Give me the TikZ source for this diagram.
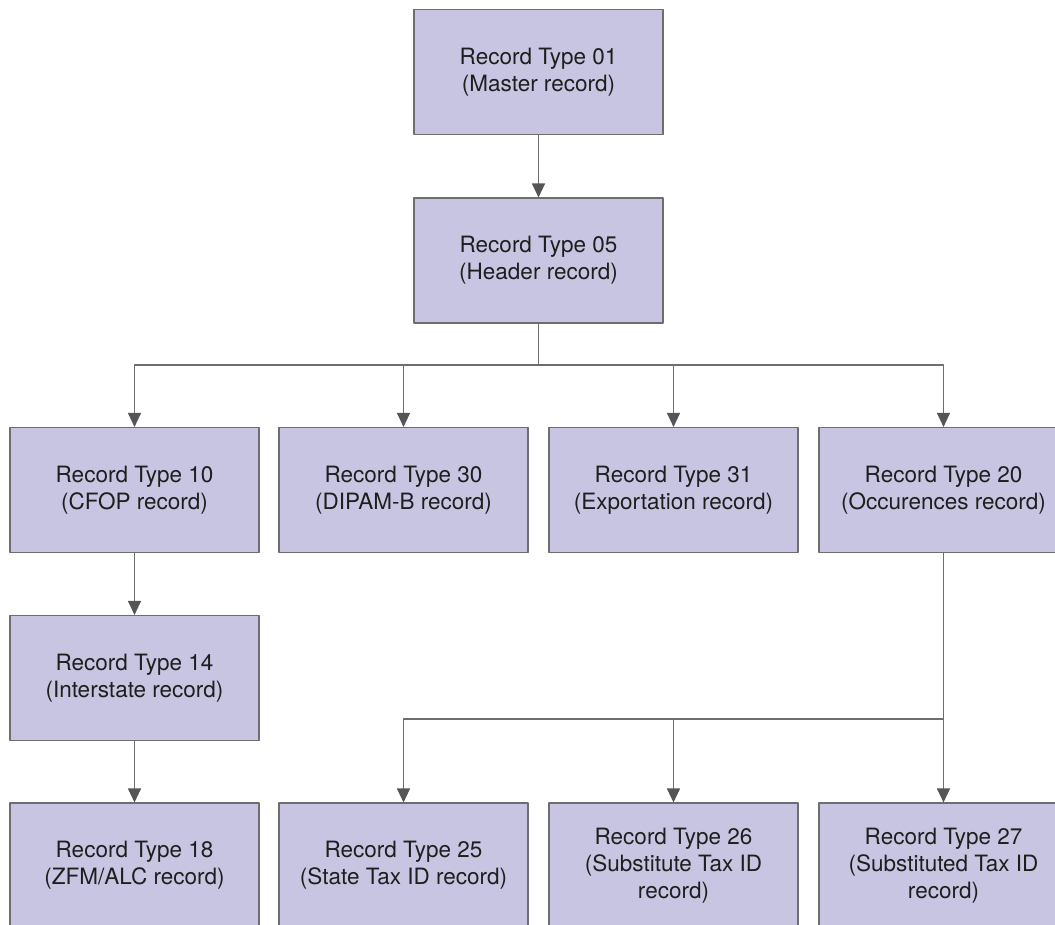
\documentclass[tikz,border=0pt]{standalone}
\usepackage{fontspec}
\setmainfont{TeX Gyre Heros}
\usetikzlibrary{arrows.meta}

\definecolor{boxfill}{HTML}{C8C5E2}
\definecolor{boxline}{HTML}{6E6E6E}
\definecolor{tipgray}{HTML}{555555}
\definecolor{textgray}{HTML}{1E1E1E}

\begin{document}
\begin{tikzpicture}[
				x=1pt, y=-1pt,
				line cap=round,
				line join=round,
				every node/.style={font=\fontsize{22.5}{27}\selectfont},
				record/.style={draw=boxline, fill=boxfill, line width=1.1pt,
					minimum width=249pt, minimum height=125pt, inner sep=0pt,
					align=center, text=textgray},
				link/.style={draw=boxline, line width=1.1pt,
					-{Triangle[length=14pt,width=13pt,color=tipgray]}}
				]
				\useasboundingbox (0,0) rectangle (1055,924);
				
				% Boxes
				\node[record] (r01) at (538.5,72) {Record Type 01\\(Master record)};
				\node[record] (r05) at (538.5,260.5) {Record Type 05\\(Header record)};
				\node[record] (r10) at (134.5,490) {Record Type 10\\(CFOP record)};
				\node[record] (r30) at (403.5,490) {Record Type 30\\(DIPAM-B record)};
				\node[record] (r31) at (673.5,490) {Record Type 31\\(Exportation record)};
				\node[record] (r20) at (943.5,490) {Record Type 20\\(Occurences record)};
				\node[record] (r14) at (134.5,678) {Record Type 14\\(Interstate record)};
				\node[record] (r18) at (134.5,865.5) {Record Type 18\\(ZFM/ALC record)};
				\node[record] (r25) at (403.5,865.5) {Record Type 25\\(State Tax ID record)};
				\node[record] (r26) at (673.5,865.5) {Record Type 26\\(Substitute Tax ID\\record)};
				\node[record] (r27) at (943.5,865.5) {Record Type 27\\(Substituted Tax ID\\record)};
				
				% Split points
				\coordinate (split05) at (538.5,365);
				\coordinate (split20) at (943.5,719);
				
				% Connectors
				\draw[link] (r01) -- (r05);
				\draw[link] (r05) -- (split05) -| (r10);
				\draw[link] (r05) -- (split05) -| (r30);
				\draw[link] (r05) -- (split05) -| (r31);
				\draw[link] (r05) -- (split05) -| (r20);
				\draw[link] (r10) -- (r14);
				\draw[link] (r14) -- (r18);
				\draw[link] (r20) -- (split20) -| (r25);
				\draw[link] (r20) -- (split20) -| (r26);
				\draw[link] (r20) -- (r27);
			\end{tikzpicture}
\end{document}
